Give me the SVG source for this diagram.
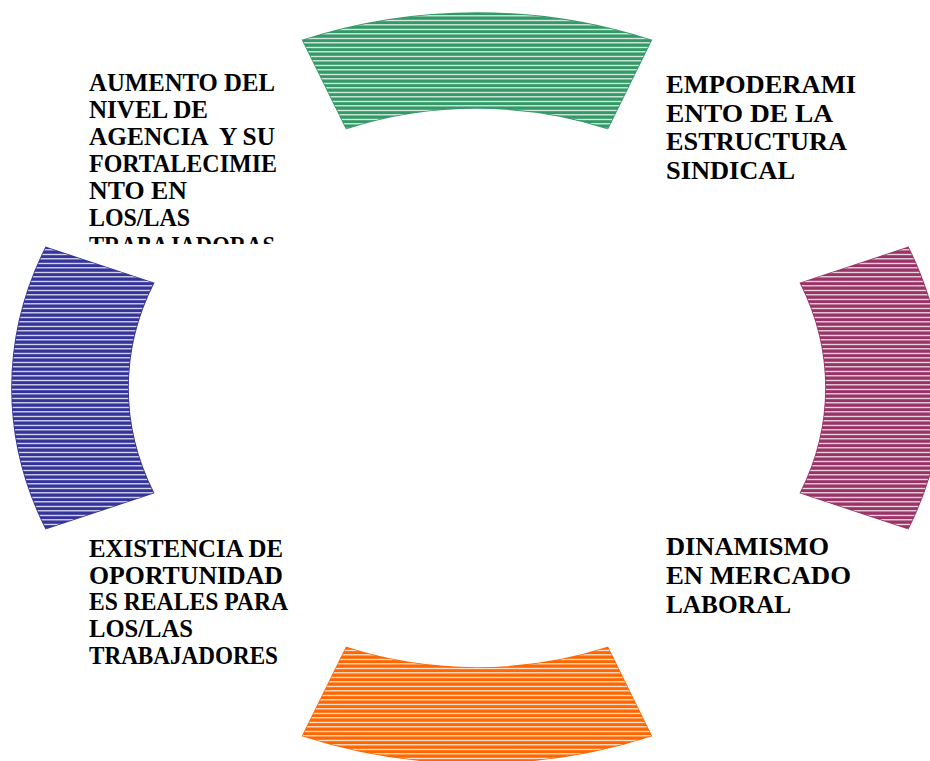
<svg xmlns="http://www.w3.org/2000/svg" width="930" height="761" viewBox="0 0 930 761">
  <defs>
    <pattern id="lines" width="20" height="4.5" patternUnits="userSpaceOnUse">
      <rect x="0" y="1.8" width="20" height="1.1" fill="#ffffff"/>
    </pattern>
    <clipPath id="clipTL">
      <rect x="80" y="55" width="230" height="189"/>
    </clipPath>
  </defs>
  <style>
    .seg { stroke-width: 1.6; stroke-linejoin: miter; }
    .hatch { fill: url(#lines); stroke: none; }
    .green { fill: #339966; stroke: #339966; }
    .plum { fill: #993366; stroke: #993366; }
    .orange { fill: #ff6600; stroke: #ff6600; }
    .blue { fill: #333399; stroke: #333399; }
    .lbl { font-family: "Liberation Serif", "Times New Roman", serif; font-weight: bold; font-size: 24.5px; fill: #000000; }
  </style>
  <rect width="930" height="761" fill="#ffffff"/>

  <g id="connectors"></g>

  <g id="segment-top">
    <path class="seg green" d="M302.81,40.31 A465,375 0 0 1 651.19,40.31 L607.74,128.39 A349,280 0 0 0 346.26,128.39 Z"/>
    <path class="hatch" d="M302.81,40.31 A465,375 0 0 1 651.19,40.31 L607.74,128.39 A349,280 0 0 0 346.26,128.39 Z"/>
  </g>
  <g id="segment-right">
    <path class="seg plum" d="M908.14,247.52 A465,375 0 0 1 908.14,528.48 L800.59,492.89 A349,280 0 0 0 800.59,283.11 Z"/>
    <path class="hatch" d="M908.14,247.52 A465,375 0 0 1 908.14,528.48 L800.59,492.89 A349,280 0 0 0 800.59,283.11 Z"/>
  </g>
  <g id="segment-bottom">
    <path class="seg orange" d="M651.19,735.69 A465,375 0 0 1 302.81,735.69 L346.26,647.61 A349,280 0 0 0 607.74,647.61 Z"/>
    <path class="hatch" d="M651.19,735.69 A465,375 0 0 1 302.81,735.69 L346.26,647.61 A349,280 0 0 0 607.74,647.61 Z"/>
  </g>
  <g id="segment-left">
    <path class="seg blue" d="M45.86,528.48 A465,375 0 0 1 45.86,247.52 L153.41,283.11 A349,280 0 0 0 153.41,492.89 Z"/>
    <path class="hatch" d="M45.86,528.48 A465,375 0 0 1 45.86,247.52 L153.41,283.11 A349,280 0 0 0 153.41,492.89 Z"/>
  </g>

  <g id="label-agencia" clip-path="url(#clipTL)">
    <text class="lbl" x="89" y="91" textLength="186" lengthAdjust="spacingAndGlyphs">AUMENTO DEL</text>
    <text class="lbl" x="89" y="118" textLength="119" lengthAdjust="spacingAndGlyphs">NIVEL DE</text>
    <text class="lbl" x="89" y="145" textLength="186" lengthAdjust="spacingAndGlyphs" xml:space="preserve">AGENCIA  Y SU</text>
    <text class="lbl" x="89" y="172" textLength="188" lengthAdjust="spacingAndGlyphs">FORTALECIMIE</text>
    <text class="lbl" x="89" y="199" textLength="98" lengthAdjust="spacingAndGlyphs">NTO EN</text>
    <text class="lbl" x="89" y="226" textLength="101" lengthAdjust="spacingAndGlyphs">LOS/LAS</text>
    <text class="lbl" x="89" y="254" textLength="186" lengthAdjust="spacingAndGlyphs">TRABAJADORAS</text>
  </g>

  <g id="label-empoderamiento">
    <text class="lbl" x="666" y="93" textLength="190" lengthAdjust="spacingAndGlyphs">EMPODERAMI</text>
    <text class="lbl" x="666" y="121.5" textLength="167" lengthAdjust="spacingAndGlyphs">ENTO DE LA</text>
    <text class="lbl" x="666" y="150" textLength="181" lengthAdjust="spacingAndGlyphs">ESTRUCTURA</text>
    <text class="lbl" x="666" y="178.5" textLength="129" lengthAdjust="spacingAndGlyphs">SINDICAL</text>
  </g>

  <g id="label-dinamismo">
    <text class="lbl" x="666" y="555" textLength="163" lengthAdjust="spacingAndGlyphs">DINAMISMO</text>
    <text class="lbl" x="666" y="584" textLength="185" lengthAdjust="spacingAndGlyphs">EN MERCADO</text>
    <text class="lbl" x="666" y="613" textLength="125" lengthAdjust="spacingAndGlyphs">LABORAL</text>
  </g>

  <g id="label-oportunidades">
    <text class="lbl" x="89" y="557" textLength="194" lengthAdjust="spacingAndGlyphs">EXISTENCIA DE</text>
    <text class="lbl" x="89" y="583.7" textLength="194" lengthAdjust="spacingAndGlyphs">OPORTUNIDAD</text>
    <text class="lbl" x="89" y="610.4" textLength="199" lengthAdjust="spacingAndGlyphs">ES REALES PARA</text>
    <text class="lbl" x="89" y="637" textLength="104" lengthAdjust="spacingAndGlyphs">LOS/LAS</text>
    <text class="lbl" x="89" y="663.8" textLength="189" lengthAdjust="spacingAndGlyphs">TRABAJADORES</text>
  </g>
</svg>
